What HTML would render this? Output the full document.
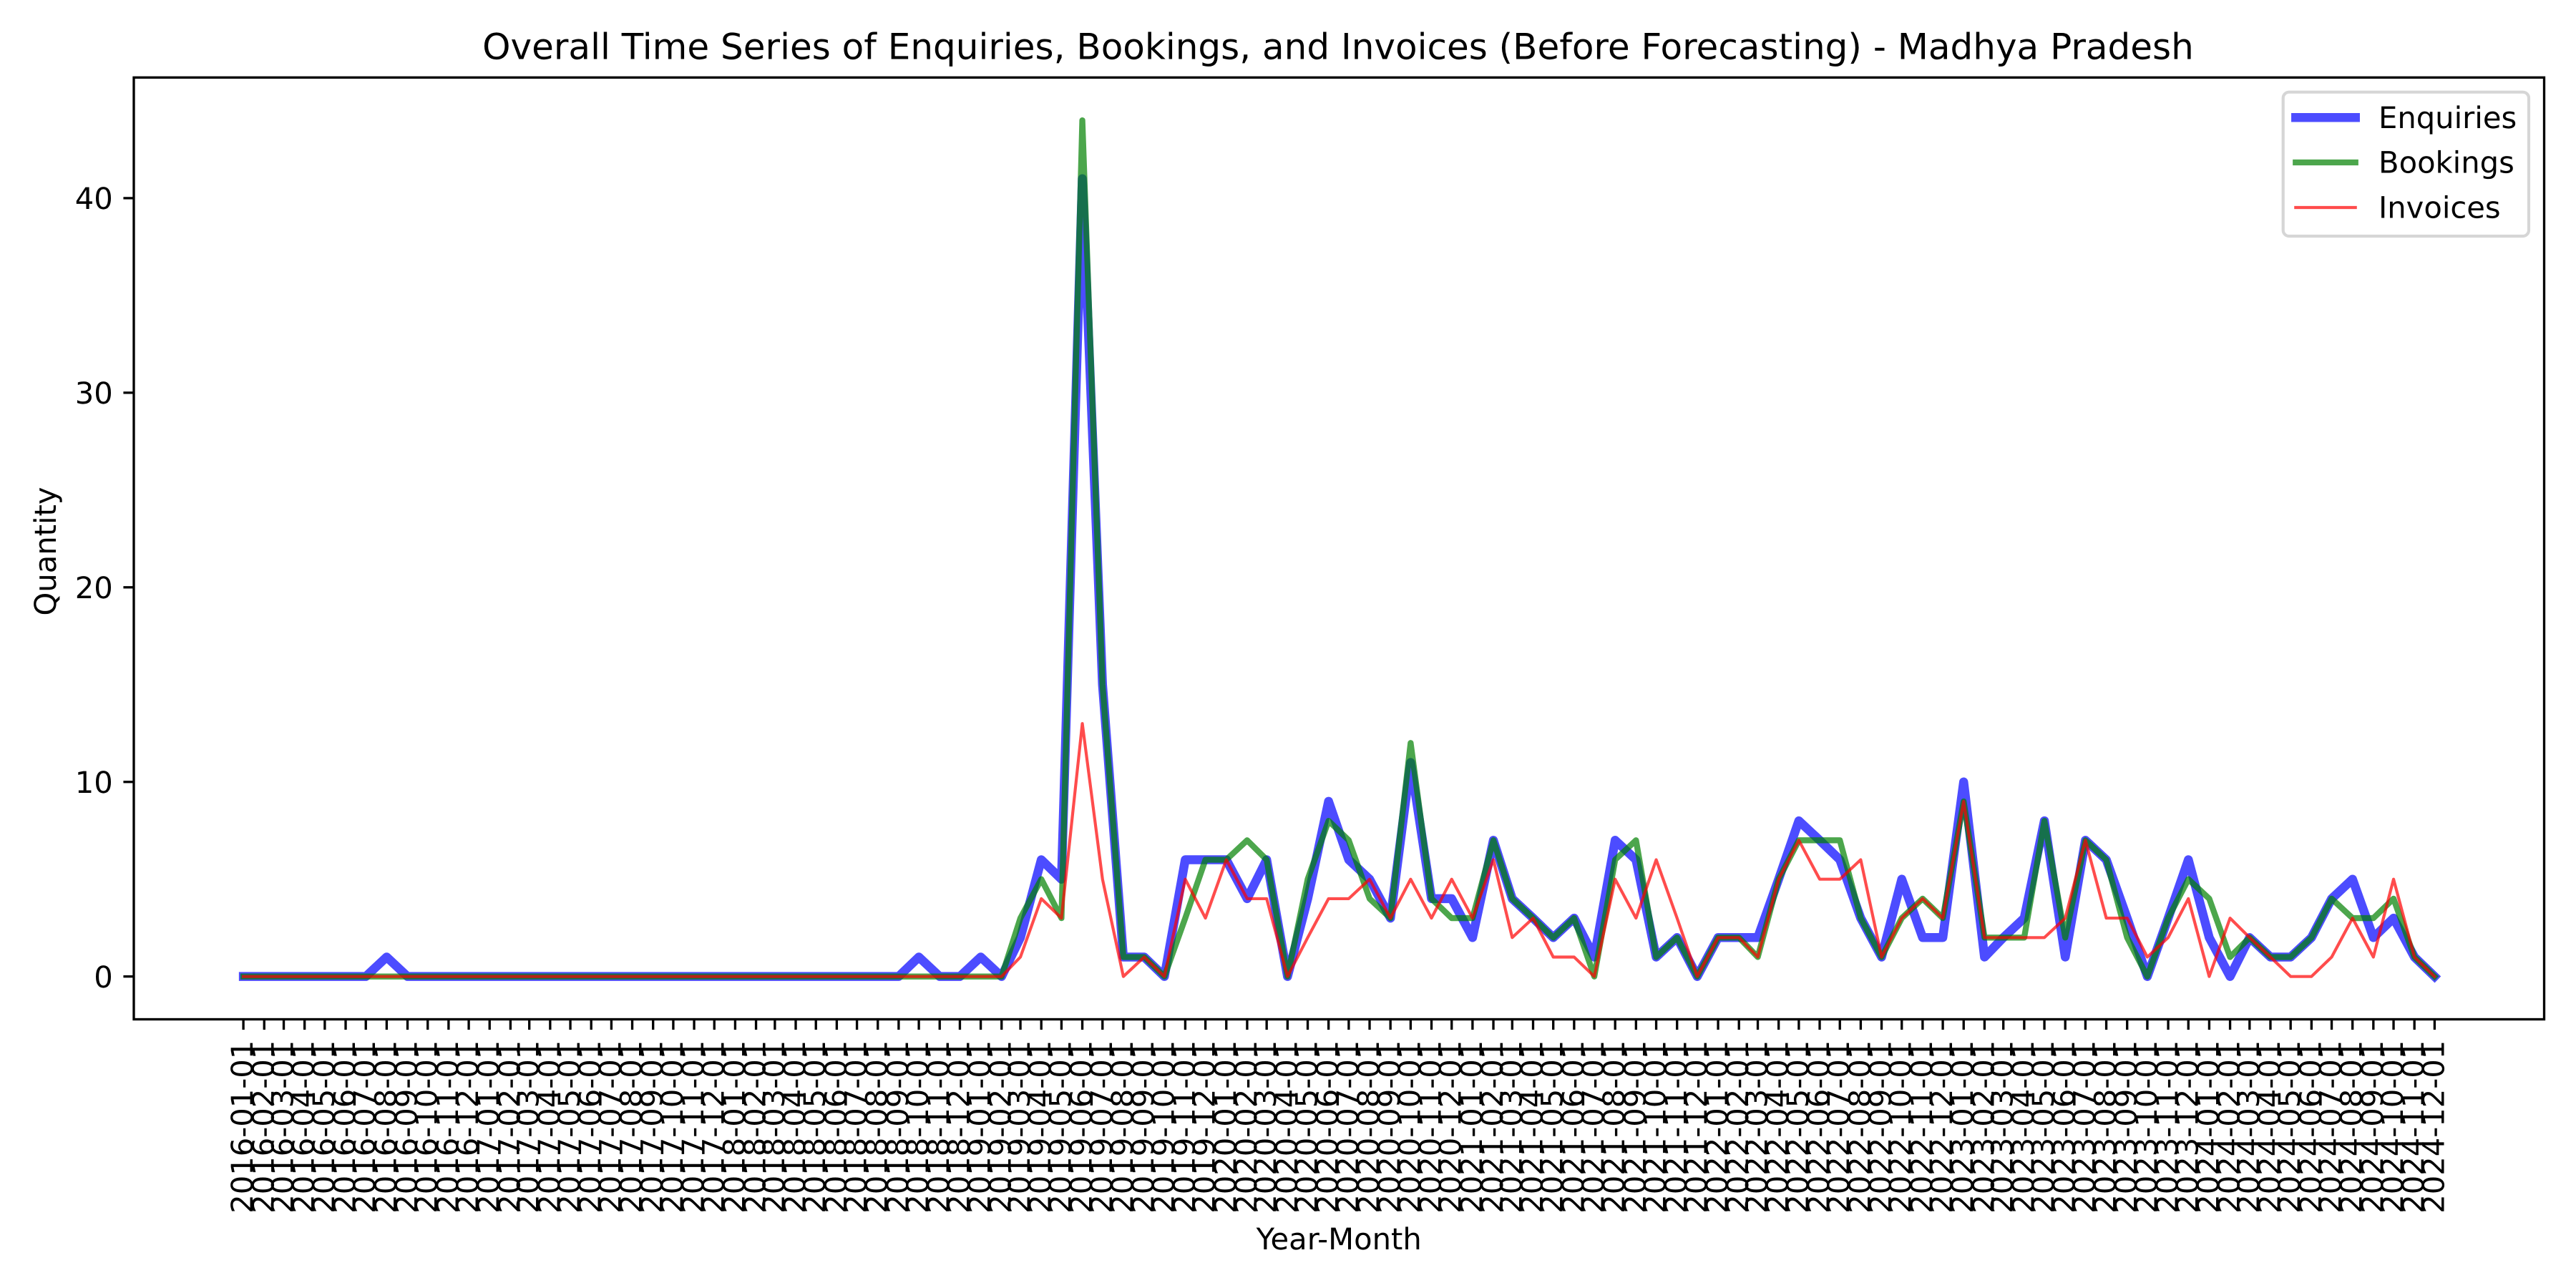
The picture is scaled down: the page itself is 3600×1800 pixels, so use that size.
<!DOCTYPE html>
<html lang="en">
<head>
<meta charset="utf-8">
<title>Overall Time Series of Enquiries, Bookings, and Invoices</title>
<style>
html,body{margin:0;padding:0;background:#fff;}
svg{display:block;}
text{font-family:"DejaVu Sans","Liberation Sans",sans-serif;fill:#000;text-rendering:geometricPrecision;}
</style>
</head>
<body>
<svg id="chart" xmlns="http://www.w3.org/2000/svg" width="3600" height="1800" viewBox="0 0 3600 1800">
  <rect x="0" y="0" width="3600" height="1800" fill="#ffffff"/>
  <g id="x-ticks"></g>
  <g id="y-ticks"></g>
  <g id="series"></g>
  <rect x="187" y="108.3" width="3368.5" height="1316.2" fill="none" stroke="#000" stroke-width="3.33"/>
  <text x="1870" y="82.7" font-size="50" text-anchor="middle">Overall Time Series of Enquiries, Bookings, and Invoices (Before Forecasting) - Madhya Pradesh</text>
  <text x="1871.2" y="1746" font-size="41.67" text-anchor="middle">Year-Month</text>
  <text transform="translate(78,770.5) rotate(-90)" font-size="41.67" text-anchor="middle">Quantity</text>
  <g>
    <rect x="3190.7" y="128.7" width="343.3" height="201.3" rx="8.3" ry="8.3" fill="#ffffff" fill-opacity="0.8" stroke="#cccccc" stroke-opacity="0.8" stroke-width="4.17"/>
    <line x1="3208.3" x2="3291.7" y1="164.3" y2="164.3" stroke="#0000ff" stroke-opacity="0.7" stroke-width="12.5" stroke-linecap="square"/>
    <text x="3324" y="179" font-size="41.67">Enquiries</text>
    <line x1="3208.3" x2="3291.7" y1="227" y2="227" stroke="#008000" stroke-opacity="0.7" stroke-width="8.33" stroke-linecap="square"/>
    <text x="3324" y="241.7" font-size="41.67">Bookings</text>
    <line x1="3208.3" x2="3291.7" y1="290" y2="290" stroke="#ff0000" stroke-opacity="0.7" stroke-width="4.17" stroke-linecap="square"/>
    <text x="3324" y="304.5" font-size="41.67">Invoices</text>
  </g>
</svg>
<script>
const categories = [
"2016-01-01","2016-02-01","2016-03-01","2016-04-01","2016-05-01","2016-06-01","2016-07-01","2016-08-01","2016-09-01","2016-10-01","2016-11-01","2016-12-01",
"2017-01-01","2017-02-01","2017-03-01","2017-04-01","2017-05-01","2017-06-01","2017-07-01","2017-08-01","2017-09-01","2017-10-01","2017-11-01","2017-12-01",
"2018-01-01","2018-02-01","2018-03-01","2018-04-01","2018-05-01","2018-06-01","2018-07-01","2018-08-01","2018-09-01","2018-10-01","2018-11-01","2018-12-01",
"2019-01-01","2019-02-01","2019-03-01","2019-04-01","2019-05-01","2019-06-01","2019-07-01","2019-08-01","2019-09-01","2019-10-01","2019-11-01","2019-12-01",
"2020-01-01","2020-02-01","2020-03-01","2020-04-01","2020-05-01","2020-06-01","2020-07-01","2020-08-01","2020-09-01","2020-10-01","2020-11-01","2020-12-01",
"2021-01-01","2021-02-01","2021-03-01","2021-04-01","2021-05-01","2021-06-01","2021-07-01","2021-08-01","2021-09-01","2021-10-01","2021-11-01","2021-12-01",
"2022-01-01","2022-02-01","2022-03-01","2022-04-01","2022-05-01","2022-06-01","2022-07-01","2022-08-01","2022-09-01","2022-10-01","2022-11-01","2022-12-01",
"2023-01-01","2023-02-01","2023-03-01","2023-04-01","2023-05-01","2023-06-01","2023-07-01","2023-08-01","2023-09-01","2023-10-01","2023-11-01","2023-12-01",
"2024-01-01","2024-02-01","2024-03-01","2024-04-01","2024-05-01","2024-06-01","2024-07-01","2024-08-01","2024-09-01","2024-10-01","2024-11-01","2024-12-01"
];
const enquiries = [
0,0,0,0,0,0,0,1,0,0,0,0,
0,0,0,0,0,0,0,0,0,0,0,0,
0,0,0,0,0,0,0,0,0,1,0,0,
1,0,2,6,5,41,15,1,1,0,6,6,
6,4,6,0,4,9,6,5,3,11,4,4,
2,7,4,3,2,3,1,7,6,1,2,0,
2,2,2,5,8,7,6,3,1,5,2,2,
10,1,2,3,8,1,7,6,3,0,3,6,
2,0,2,1,1,2,4,5,2,3,1,0
];
const bookings = [
0,0,0,0,0,0,0,0,0,0,0,0,
0,0,0,0,0,0,0,0,0,0,0,0,
0,0,0,0,0,0,0,0,0,0,0,0,
0,0,3,5,3,44,15,1,1,0,3,6,
6,7,6,0,5,8,7,4,3,12,4,3,
3,7,4,3,2,3,0,6,7,1,2,0,
2,2,1,5,7,7,7,3,1,3,4,3,
9,2,2,2,8,2,7,6,2,0,3,5,
4,1,2,1,1,2,4,3,3,4,1,0
];
const invoices = [
0,0,0,0,0,0,0,0,0,0,0,0,
0,0,0,0,0,0,0,0,0,0,0,0,
0,0,0,0,0,0,0,0,0,0,0,0,
0,0,1,4,3,13,5,0,1,0,5,3,
6,4,4,0,2,4,4,5,3,5,3,5,
3,6,2,3,1,1,0,5,3,6,3,0,
2,2,1,5,7,5,5,6,1,3,4,3,
9,2,2,2,2,3,7,3,3,1,2,4,
0,3,2,1,0,0,1,3,1,5,1,0
];
const yTickValues = [0,10,20,30,40];

const NS = 'http://www.w3.org/2000/svg';
const plotLeft = 187, plotRight = 3555.5, plotTop = 108.3, plotBottom = 1424.5;
const dayNumbers = categories.map(function (c) { return Date.parse(c + 'T00:00:00Z') / 86400000; });
const dayMin = Math.min.apply(null, dayNumbers), dayMax = Math.max.apply(null, dayNumbers);
const xPad = (dayMax - dayMin) * 0.05;
function xScale(day) {
  return plotLeft + (day - (dayMin - xPad)) / ((dayMax + xPad) - (dayMin - xPad)) * (plotRight - plotLeft);
}
const allValues = enquiries.concat(bookings, invoices);
const vMin = Math.min.apply(null, allValues), vMax = Math.max.apply(null, allValues);
const vPad = (vMax - vMin) * 0.05;
function yScale(v) {
  return plotBottom - (v - (vMin - vPad)) / ((vMax + vPad) - (vMin - vPad)) * (plotBottom - plotTop);
}
function make(tag, attrs, parent) {
  const el = document.createElementNS(NS, tag);
  Object.keys(attrs).forEach(function (k) { el.setAttribute(k, attrs[k]); });
  parent.appendChild(el);
  return el;
}
const xTicks = document.getElementById('x-ticks');
categories.forEach(function (label, i) {
  const x = xScale(dayNumbers[i]);
  const tick = make('line', {x1: x, x2: x, y1: plotBottom, y2: plotBottom + 14.58, stroke: '#000', 'stroke-width': 3.33}, xTicks);
  
  
  const t = make('text', {transform: 'translate(' + (x + 13) + ',' + (plotBottom + 29.2) + ') rotate(-90)', 'font-size': 41.67, 'text-anchor': 'end'}, xTicks);
  
  
  t.textContent = label;
});
const yTicks = document.getElementById('y-ticks');
yTickValues.forEach(function (v) {
  const y = yScale(v);
  const tick = make('line', {x1: plotLeft - 14.58, x2: plotLeft, y1: y, y2: y, stroke: '#000', 'stroke-width': 3.33}, yTicks);
  
  
  const t = make('text', {x: plotLeft - 29.2, y: y + 15.2, 'font-size': 41.67, 'text-anchor': 'end'}, yTicks);
  
  
  t.textContent = String(v);
});
function pointsFor(values) {
  return values.map(function (v, i) { return xScale(dayNumbers[i]).toFixed(2) + ',' + yScale(v).toFixed(2); }).join(' ');
}
const seriesGroup = document.getElementById('series');
const lineEnquiries = make('polyline', {points: pointsFor(enquiries), fill: 'none', stroke: '#0000ff', 'stroke-opacity': 0.7, 'stroke-width': 12.5, 'stroke-linejoin': 'round', 'stroke-linecap': 'square'}, seriesGroup);


const lineBookings = make('polyline', {points: pointsFor(bookings), fill: 'none', stroke: '#008000', 'stroke-opacity': 0.7, 'stroke-width': 8.33, 'stroke-linejoin': 'round', 'stroke-linecap': 'square'}, seriesGroup);


const lineInvoices = make('polyline', {points: pointsFor(invoices), fill: 'none', stroke: '#ff0000', 'stroke-opacity': 0.7, 'stroke-width': 4.17, 'stroke-linejoin': 'round', 'stroke-linecap': 'square'}, seriesGroup);


</script>
</body>
</html>
